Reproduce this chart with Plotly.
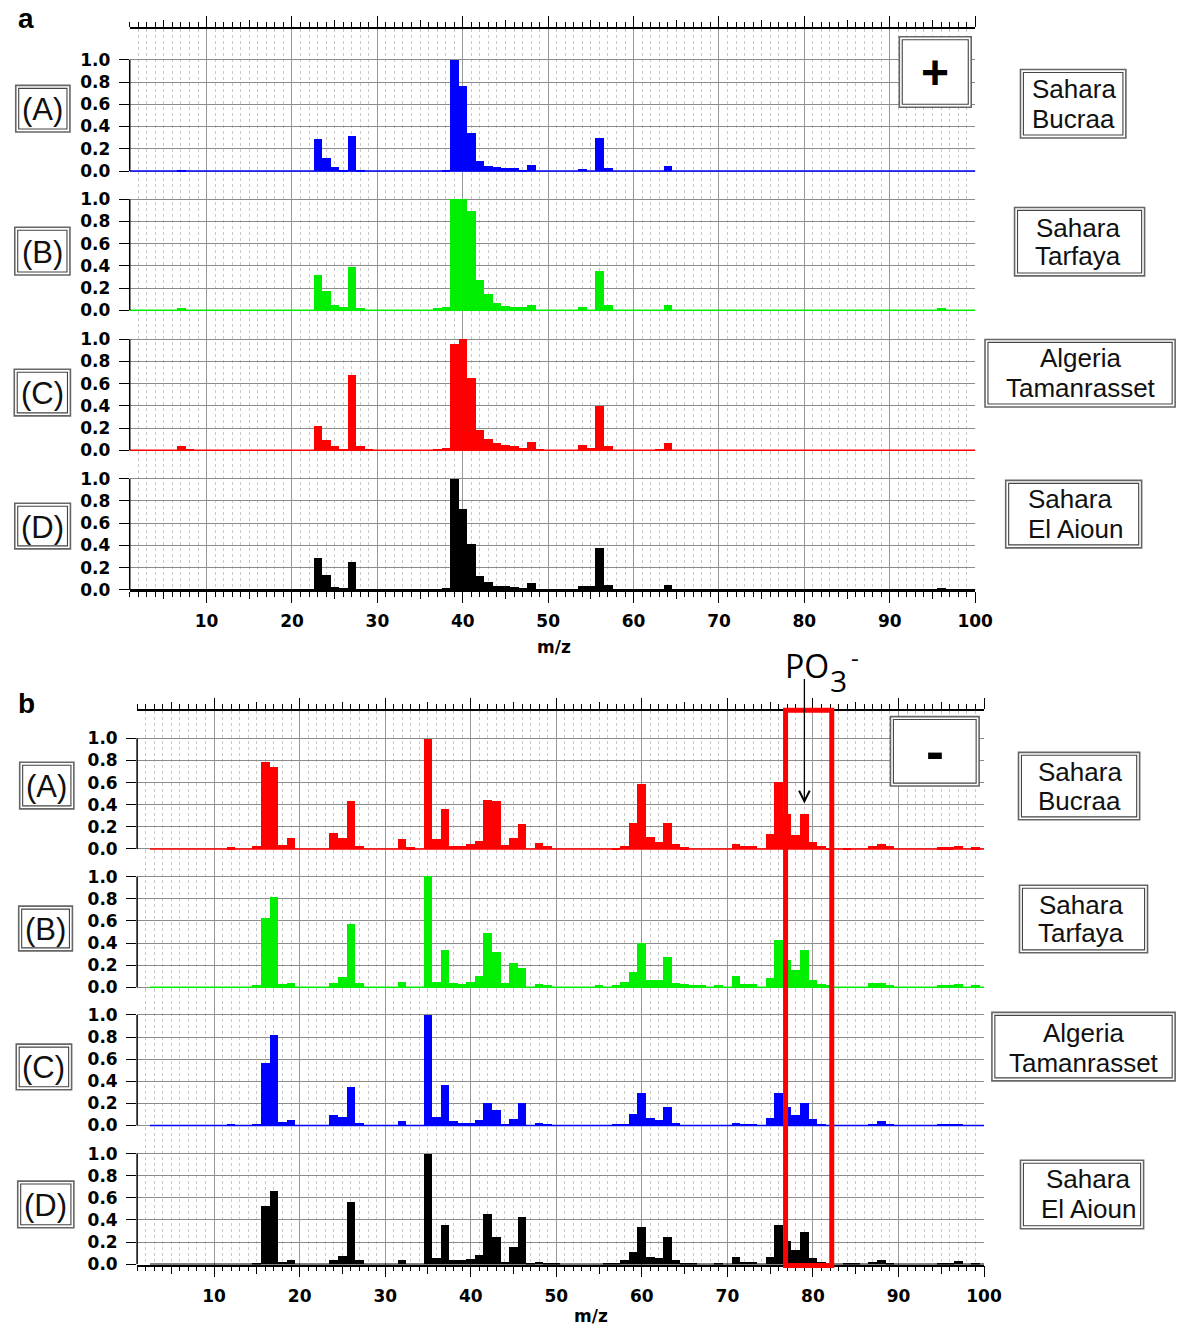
import plotly.graph_objects as go

W, H = 1201, 1336

# ---------------- data ----------------
X_TICKS = [10, 20, 30, 40, 50, 60, 70, 80, 90, 100]
X_MID_TICKS = [5, 15, 25, 35, 45, 55, 65, 75, 85, 95]
Y_TICKS = [0.0, 0.2, 0.4, 0.6, 0.8, 1.0]
Y_TICK_TEXT = ["0.0", "0.2", "0.4", "0.6", "0.8", "1.0"]
X_RANGE = [1, 100]

ROW_LABELS = ["(A)", "(B)", "(C)", "(D)"]
SITE_LINE1 = ["Sahara", "Sahara", "Algeria", "Sahara"]
SITE_LINE2 = ["Bucraa", "Tarfaya", "Tamanrasset", "El Aioun"]
PANEL_LETTERS = ["a", "b"]
POLARITY = ["+", "-"]

POS_COLORS = ["#0000ff", "#00ee00", "#ff0000", "#000000"]
NEG_COLORS = ["#ff0000", "#00ee00", "#0000ff", "#000000"]

POS_MZ_RANGE = [1, 100]
NEG_MZ_RANGE = [3, 100]

# positive ions (panel a)
POS_A_MZ = [7, 23, 24, 25, 26, 27, 28, 38, 39, 40, 41, 42, 43, 44, 45, 46, 47, 48, 54, 56, 57, 64]
POS_A_VAL = [0.015, 0.29, 0.116, 0.036, 0.015, 0.32, 0.015, 0.015, 1.0, 0.77, 0.34, 0.095, 0.045,
             0.036, 0.025, 0.025, 0.015, 0.057, 0.02, 0.30, 0.03, 0.045]

POS_B_MZ = [7, 23, 24, 25, 26, 27, 28, 37, 38, 39, 40, 41, 42, 43, 44, 45, 46, 47, 48, 54, 56, 57, 64, 96]
POS_B_VAL = [0.012, 0.316, 0.173, 0.048, 0.024, 0.39, 0.01, 0.015, 0.024, 1.0, 1.0, 0.89, 0.266, 0.146,
             0.066, 0.033, 0.024, 0.024, 0.042, 0.03, 0.35, 0.04, 0.04, 0.01]

POS_C_MZ = [7, 8, 23, 24, 25, 26, 27, 28, 29, 37, 38, 39, 40, 41, 42, 43, 44, 45, 46, 47, 48, 49,
            54, 55, 56, 57, 63, 64]
POS_C_VAL = [0.038, 0.015, 0.216, 0.095, 0.036, 0.015, 0.675, 0.036, 0.015, 0.012, 0.02, 0.956, 1.0,
             0.654, 0.183, 0.107, 0.065, 0.047, 0.041, 0.024, 0.077, 0.015, 0.047, 0.02, 0.396, 0.044,
             0.015, 0.065]

POS_D_MZ = [23, 24, 25, 26, 27, 38, 39, 40, 41, 42, 43, 44, 45, 46, 47, 48, 54, 55, 56, 57, 64, 96]
POS_D_VAL = [0.286, 0.134, 0.027, 0.015, 0.256, 0.015, 1.0, 0.73, 0.417, 0.128, 0.077, 0.039, 0.039,
             0.027, 0.015, 0.06, 0.033, 0.033, 0.375, 0.042, 0.045, 0.015]

# negative ions (panel b)
NEG_A_MZ = [12, 15, 16, 17, 18, 19, 24, 25, 26, 27, 32, 33, 35, 36, 37, 38, 39, 40, 41, 42, 43, 44,
            45, 46, 48, 49, 57, 58, 59, 60, 61, 62, 63, 64, 65, 71, 72, 73, 75, 76, 77, 78, 79, 80,
            81, 82, 84, 87, 88, 89, 95, 96, 97, 99]
NEG_A_VAL = [0.018, 0.027, 0.787, 0.745, 0.039, 0.105, 0.147, 0.1, 0.437, 0.027, 0.09, 0.018, 1.0,
             0.09, 0.368, 0.027, 0.027, 0.048, 0.075, 0.449, 0.437, 0.039, 0.099, 0.225, 0.057, 0.027,
             0.01, 0.027, 0.237, 0.587, 0.108, 0.063, 0.237, 0.048, 0.018, 0.048, 0.027, 0.027, 0.138,
             0.608, 0.317, 0.129, 0.317, 0.069, 0.027, 0.01, 0.01, 0.027, 0.048, 0.027, 0.018, 0.018,
             0.027, 0.018]

NEG_B_MZ = [15, 16, 17, 18, 19, 24, 25, 26, 27, 32, 35, 36, 37, 38, 39, 40, 41, 42, 43, 44, 45, 46,
            48, 49, 55, 57, 58, 59, 60, 61, 62, 63, 64, 65, 66, 67, 69, 71, 72, 73, 75, 76, 77, 78,
            79, 80, 81, 82, 87, 88, 89, 95, 96, 97, 99]
NEG_B_VAL = [0.015, 0.62, 0.814, 0.024, 0.036, 0.036, 0.087, 0.566, 0.036, 0.048, 1.0, 0.042, 0.338,
             0.036, 0.024, 0.048, 0.1, 0.485, 0.317, 0.036, 0.216, 0.168, 0.024, 0.012, 0.01, 0.015,
             0.042, 0.13, 0.4, 0.063, 0.063, 0.266, 0.036, 0.024, 0.01, 0.01, 0.01, 0.096, 0.024,
             0.024, 0.084, 0.425, 0.245, 0.156, 0.335, 0.066, 0.027, 0.01, 0.036, 0.036, 0.012,
             0.012, 0.015, 0.024, 0.012]

NEG_C_MZ = [12, 15, 16, 17, 18, 19, 24, 25, 26, 27, 32, 35, 36, 37, 38, 39, 40, 41, 42, 43, 44, 45,
            46, 48, 49, 57, 58, 59, 60, 61, 62, 63, 64, 71, 72, 73, 75, 76, 77, 78, 79, 80, 81, 87,
            88, 89, 95, 96, 97]
NEG_C_VAL = [0.018, 0.015, 0.569, 0.82, 0.036, 0.048, 0.096, 0.078, 0.347, 0.027, 0.039, 1.0, 0.078,
             0.368, 0.039, 0.027, 0.027, 0.048, 0.21, 0.147, 0.018, 0.057, 0.21, 0.027, 0.018, 0.01,
             0.018, 0.108, 0.3, 0.066, 0.048, 0.168, 0.027, 0.027, 0.018, 0.018, 0.066, 0.3, 0.168,
             0.096, 0.21, 0.06, 0.012, 0.018, 0.039, 0.012, 0.015, 0.018, 0.015]

NEG_D_MZ = [15, 16, 17, 18, 19, 24, 25, 26, 27, 32, 35, 36, 37, 38, 39, 40, 41, 42, 43, 44, 45, 46,
            47, 48, 49, 50, 56, 57, 58, 59, 60, 61, 62, 63, 64, 65, 66, 69, 71, 72, 73, 75, 76, 77,
            78, 79, 80, 81, 82, 84, 85, 87, 88, 89, 95, 96, 97, 99]
NEG_D_VAL = [0.015, 0.53, 0.662, 0.024, 0.036, 0.039, 0.078, 0.56, 0.039, 0.039, 1.0, 0.057, 0.35,
             0.039, 0.039, 0.048, 0.087, 0.452, 0.25, 0.024, 0.159, 0.428, 0.015, 0.024, 0.015, 0.015,
             0.015, 0.015, 0.039, 0.11, 0.338, 0.069, 0.06, 0.25, 0.039, 0.015, 0.015, 0.015, 0.069,
             0.024, 0.024, 0.069, 0.35, 0.21, 0.13, 0.29, 0.06, 0.024, 0.01, 0.015, 0.015, 0.024,
             0.039, 0.015, 0.015, 0.015, 0.03, 0.015]

PO3_REGION = [76.8, 82.2]   # highlighted m/z window
PO3_MZ = 79                 # PO3- ion

POS_SERIES = [(POS_A_MZ, POS_A_VAL), (POS_B_MZ, POS_B_VAL), (POS_C_MZ, POS_C_VAL), (POS_D_MZ, POS_D_VAL)]
NEG_SERIES = [(NEG_A_MZ, NEG_A_VAL), (NEG_B_MZ, NEG_B_VAL), (NEG_C_MZ, NEG_C_VAL), (NEG_D_MZ, NEG_D_VAL)]

# ---------------- layout geometry (pixels) ----------------
PANELS = [
    dict(series=POS_SERIES, colors=POS_COLORS, mzr=POS_MZ_RANGE,
         left=131.7, right=990.0, top=29.0, zeros=[172.3, 312.7, 453.7, 594.3], unit=112.0,
         row_box=[(16, 86, 71, 133), (15, 229, 71, 277), (14.5, 372, 71.5, 419), (15, 507, 71.5, 553)],
         site_box=[(1036, 70, 1143, 139), (1030, 209, 1162, 278), (1000, 342, 1193, 410), (1021, 484, 1159, 552)],
         site_txt=[(1090, 90, 120, "center"), (1094, 230, 258, "center"), (1097, 361, 391, "center"),
                   (1042, 503, 533, "left")],
         letter=(26, 19), pol_box=(913, 37, 986, 108), pol_txt=(949.5, 73, 48), mz_lbl=(562, 652)),
    dict(series=NEG_SERIES, colors=NEG_COLORS, mzr=NEG_MZ_RANGE,
         left=139.2, right=999.0, top=716.0, zeros=[855.3, 994.7, 1134.0, 1273.7], unit=111.4,
         row_box=[(20, 768, 75, 815), (19, 913, 73.5, 958), (16.5, 1052, 72.7, 1098), (18, 1190, 75, 1237)],
         site_box=[(1034, 758, 1157, 826), (1035, 892, 1165, 960), (1007, 1020, 1193, 1089), (1036, 1169, 1161, 1238)],
         site_txt=[(1096, 778, 807, "center"), (1097, 912, 940, "center"), (1100, 1041, 1071, "center"),
                   (1105, 1188, 1218, "center")],
         letter=(27, 709), pol_box=(904, 722, 994, 792), pol_txt=(949.5, 757, 54), mz_lbl=(600, 1326)),
]


def px(xp):
    return xp / W


def py(yp):
    return 1 - yp / H


TICK_FONT_Y = dict(family="DejaVu Sans", size=17, color="black", weight="bold")
TICK_FONT_X = dict(family="DejaVu Sans", size=17, color="black", weight="bold")
LABEL_FONT = dict(family="Liberation Sans, Arial", size=26, color="#111111")
ROW_FONT = dict(family="Liberation Sans, Arial", size=31, color="#111111")

fig = go.Figure()
layout = {}
shapes = []
annotations = []


def double_box(x0, y0, x1, y1):
    shapes.append(dict(type="rect", xref="paper", yref="paper", x0=px(x0), x1=px(x1), y0=py(y1), y1=py(y0),
                       line=dict(color="#666666", width=1.6), fillcolor="white", layer="above"))
    d = 3
    shapes.append(dict(type="rect", xref="paper", yref="paper", x0=px(x0 + d), x1=px(x1 - d),
                       y0=py(y1 - d), y1=py(y0 + d), line=dict(color="#444444", width=1.1), layer="above"))


for p, panel in enumerate(PANELS):
    for k in range(4):
        n = p * 4 + k + 1
        xr = "x" if n == 1 else f"x{n}"
        yr = "y" if n == 1 else f"y{n}"
        top_px = panel["top"] if k == 0 else panel["zeros"][k - 1] + 1.5
        bot_px = panel["zeros"][k] + (1.5 if k < 3 else 0.4)
        zero = panel["zeros"][k]
        u = panel["unit"]
        yrange = [-(bot_px - zero) / u, (zero - top_px) / u]

        xa = dict(domain=[px(panel["left"]), px(panel["right"])], range=X_RANGE, anchor=yr,
                  tickvals=X_TICKS, showgrid=True, gridcolor="#9a9a9a", gridwidth=1, zeroline=False,
                  minor=dict(dtick=1, tick0=0, showgrid=True, gridcolor="#c8c8c8", griddash="dot",
                             gridwidth=1),
                  fixedrange=True, showticklabels=False, ticks="", showline=False)
        if k == 0 or k == 3:
            xa.update(side="top" if k == 0 else "bottom", showline=True, linecolor="black", linewidth=1.5,
                      ticks="outside", ticklen=11, tickwidth=1.2, tickcolor="black")
            xa["minor"].update(ticks="outside", ticklen=5, tickwidth=1.2, tickcolor="black")
        if k == 3:
            xa.update(showticklabels=True, tickfont=TICK_FONT_X, ticklabelstandoff=4)
        layout["xaxis" if n == 1 else f"xaxis{n}"] = xa

        layout["yaxis" if n == 1 else f"yaxis{n}"] = dict(
            domain=[py(bot_px), py(top_px)], range=yrange, anchor=xr, tickvals=Y_TICKS,
            ticktext=Y_TICK_TEXT, ticks="outside", ticklen=10, tickwidth=1.3, tickcolor="black",
            showline=False, showgrid=True, gridcolor="#8c8c8c", gridwidth=1, zeroline=False,
            tickfont=TICK_FONT_Y, ticklabelstandoff=5, fixedrange=True)

        mz, val = panel["series"][k]
        color = panel["colors"][k]
        fig.add_trace(go.Bar(x=mz, y=val, width=1, marker=dict(color=color, line=dict(width=0)),
                             xaxis=xr, yaxis=yr, showlegend=False, hoverinfo="x+y"))
        lo, hi = panel["mzr"]
        fig.add_trace(go.Scatter(x=[lo - 0.5, hi + 0.5], y=[0, 0], mode="lines",
                                 line=dict(color=color, width=1.5), xaxis=xr, yaxis=yr,
                                 showlegend=False, hoverinfo="skip"))

        # y axis line only over 0..1
        shapes.append(dict(type="line", xref=f"{xr} domain", yref=yr, x0=0, x1=0, y0=0, y1=1,
                           line=dict(color="black", width=1.5)))

        # row label
        bx = panel["row_box"][k]
        double_box(*bx)
        annotations.append(dict(text=ROW_LABELS[k], xref="paper", yref="paper", x=px((bx[0] + bx[2]) / 2),
                                y=py((bx[1] + bx[3]) / 2 + 1), showarrow=False, font=ROW_FONT,
                                xanchor="center", yanchor="middle"))
        # site label
        sb = panel["site_box"][k]
        double_box(*sb)
        tx, y1t, y2t, al = panel["site_txt"][k]
        for txt, yy in ((SITE_LINE1[k], y1t), (SITE_LINE2[k], y2t)):
            annotations.append(dict(text=txt, xref="paper", yref="paper", x=px(tx), y=py(yy),
                                    showarrow=False, font=LABEL_FONT, xanchor=al, yanchor="middle"))

    # medium ticks (every 5) on top and bottom axes via overlaying axes
    base_top = p * 4 + 1
    base_bot = p * 4 + 4
    for base, side, idx in ((base_top, "top", 9 + 2 * p), (base_bot, "bottom", 10 + 2 * p)):
        bx_ = "x" if base == 1 else f"x{base}"
        by_ = "y" if base == 1 else f"y{base}"
        layout[f"xaxis{idx}"] = dict(overlaying=bx_, anchor=by_, side=side, range=X_RANGE,
                                     tickvals=X_MID_TICKS, ticks="outside", ticklen=8, tickwidth=1.2,
                                     tickcolor="black", showticklabels=False, showgrid=False,
                                     showline=False, zeroline=False, fixedrange=True)
        fig.add_trace(go.Scatter(x=[None], y=[None], xaxis=f"x{idx}", yaxis=by_, showlegend=False,
                                 hoverinfo="skip"))

    # panel letter
    lx, ly = panel["letter"]
    annotations.append(dict(text=PANEL_LETTERS[p], xref="paper", yref="paper", x=px(lx), y=py(ly),
                            showarrow=False, xanchor="center", yanchor="middle",
                            font=dict(family="Liberation Sans, Arial", size=28, color="black", weight="bold")))
    # polarity box
    double_box(*panel["pol_box"])
    ptx, pty, pfs = panel["pol_txt"]
    annotations.append(dict(text=POLARITY[p], xref="paper", yref="paper", x=px(ptx), y=py(pty),
                            showarrow=False, xanchor="center", yanchor="middle",
                            font=dict(family="Liberation Sans, Arial", size=pfs, color="black", weight="bold")))
    # m/z label
    mx, my = panel["mz_lbl"]
    annotations.append(dict(text="m/z", xref="paper", yref="paper", x=px(mx), y=py(my), showarrow=False,
                            xanchor="center", yanchor="middle", font=TICK_FONT_X))

# PO3- highlight rectangle (panel b)
shapes.append(dict(type="rect", xref="x5", yref="paper", x0=PO3_REGION[0], x1=PO3_REGION[1],
                   y0=py(1275), y1=py(715.5), line=dict(color="#ff0000", width=5), layer="above"))

# PO3- label and arrow
annotations.append(dict(text="", xref="x5", yref="y5", x=PO3_MZ, y=0.41, ax=0, ay=-126,
                        showarrow=True, arrowhead=5, arrowsize=1.6, arrowwidth=1.3, arrowcolor="black"))
annotations.append(dict(text="PO", xref="paper", yref="paper", x=px(795), y=py(671), showarrow=False,
                        xanchor="left", yanchor="middle",
                        font=dict(family="Open Sans, Noto Sans", size=32, color="black")))
annotations.append(dict(text="3", xref="paper", yref="paper", x=px(851), y=py(686), showarrow=False,
                        xanchor="center", yanchor="middle",
                        font=dict(family="Open Sans, Noto Sans", size=30, color="black")))
annotations.append(dict(text="-", xref="paper", yref="paper", x=px(868), y=py(662), showarrow=False,
                        xanchor="center", yanchor="middle",
                        font=dict(family="Open Sans, Noto Sans", size=24, color="black")))

layout.update(width=W, height=H, margin=dict(l=0, r=0, t=0, b=0), paper_bgcolor="white",
              plot_bgcolor="white", showlegend=False, shapes=shapes, annotations=annotations,
              bargap=0, barmode="overlay")
fig.update_layout(**layout)
fig.write_html(
    "out.html",
    config={"displayModeBar": False},
    post_script=("document.documentElement.style.margin='0px';document.body.style.margin='0px';"
                 "document.documentElement.style.overflow='hidden';document.body.style.overflow='hidden';"),
)
